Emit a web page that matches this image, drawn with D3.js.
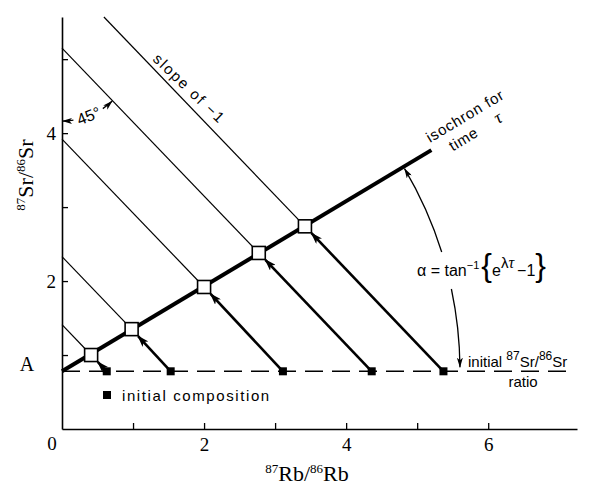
<!DOCTYPE html>
<html>
<head>
<meta charset="utf-8">
<script src="https://cdn.jsdelivr.net/npm/d3@7"></script>
<style>
  body { margin: 0; background: #fff; }
  svg { display: block; }
</style>
</head>
<body>
<div id="chart"></div>
<script>
"use strict";

// Initial compositions (on the dashed line)
var initialRb = [0.63, 1.53, 3.11, 4.36, 5.37];
var initialSr = 0.78;

// Compositions after time tau (on the isochron)
var nowRb = [0.41, 0.98, 2.0, 2.77, 3.42];
var nowSr = [1.0, 1.35, 1.92, 2.38, 2.74];

// Isochron end points
var isoRb = [0, 5.2];
var isoSr = [0.78, 3.77];

// Ticks
var xTicks = [1, 2, 3, 4, 5, 6];
var xTickLabels = ["", "2", "", "4", "", "6"];
var yTicks = [1, 2, 3, 4, 5];
var yTickLabels = ["", "2", "", "4", ""];

var width = 599, height = 487;
var serif = "'Liberation Serif', 'DejaVu Serif', serif";
var sans = "'Liberation Sans', Arial, sans-serif";

var x = d3.scaleLinear().domain([0, 7.25]).range([62, 577]);
var y = d3.scaleLinear().domain([0, 5.57]).range([429, 17]);

var svg = d3.select("#chart").append("svg")
  .attr("width", width)
  .attr("height", height);

// Arrow heads
var defs = svg.append("defs");
defs.append("marker")
  .attr("id", "bighead")
  .attr("viewBox", "0 0 12 8")
  .attr("refX", 11).attr("refY", 4)
  .attr("markerWidth", 12).attr("markerHeight", 8)
  .attr("markerUnits", "userSpaceOnUse")
  .attr("orient", "auto")
  .append("path")
  .attr("d", "M0,0 L12,4 L0,8 L3,4 Z")
  .attr("fill", "black");
defs.append("marker")
  .attr("id", "smallhead")
  .attr("viewBox", "0 0 10 6")
  .attr("refX", 9.5).attr("refY", 3)
  .attr("markerWidth", 10).attr("markerHeight", 6)
  .attr("markerUnits", "userSpaceOnUse")
  .attr("orient", "auto")
  .append("path")
  .attr("d", "M0,0 L10,3 L0,6 L2.5,3 Z")
  .attr("fill", "black");

// Axes
var xAxis = svg.append("g")
  .attr("transform", "translate(0," + y(0) + ")")
  .call(d3.axisBottom(x)
    .tickValues(xTicks)
    .tickSizeInner(-6)
    .tickSizeOuter(0)
    .tickPadding(9)
    .tickFormat(function(d, i) { return xTickLabels[i]; }));

var yAxis = svg.append("g")
  .attr("transform", "translate(" + x(0) + ",0)")
  .call(d3.axisLeft(y)
    .tickValues(yTicks)
    .tickSizeInner(-6)
    .tickSizeOuter(0)
    .tickPadding(6)
    .tickFormat(function(d, i) { return yTickLabels[i]; }));

[xAxis, yAxis].forEach(function(ax) {
  ax.select(".domain").attr("stroke-width", 1.6);
  ax.selectAll(".tick line").attr("stroke-width", 1.3);
  ax.selectAll("text")
    .attr("font-family", serif)
    .attr("font-size", 19)
    .attr("fill", "black");
});

// Origin label and "A"
svg.append("text")
  .attr("x", 52).attr("y", 450)
  .attr("text-anchor", "middle")
  .attr("font-family", serif).attr("font-size", 19)
  .text("0");

svg.append("text")
  .attr("x", 27).attr("y", y(initialSr))
  .attr("text-anchor", "middle")
  .attr("font-family", serif).attr("font-size", 20)
  .text("A");

// Axis titles
var xt = svg.append("text")
  .attr("x", 307).attr("y", 481)
  .attr("text-anchor", "middle")
  .attr("font-family", serif).attr("font-size", 22);
xt.append("tspan").attr("font-size", 13).attr("dy", -8).text("87");
xt.append("tspan").attr("dy", 8).text("Rb/");
xt.append("tspan").attr("font-size", 13).attr("dy", -8).text("86");
xt.append("tspan").attr("dy", 8).text("Rb");

var yt = svg.append("text")
  .attr("transform", "translate(33,175) rotate(-90)")
  .attr("text-anchor", "middle")
  .attr("font-family", serif).attr("font-size", 22);
yt.append("tspan").attr("font-size", 13).attr("dy", -8).text("87");
yt.append("tspan").attr("dy", 8).text("Sr/");
yt.append("tspan").attr("font-size", 13).attr("dy", -8).text("86");
yt.append("tspan").attr("dy", 8).text("Sr");

// Thin lines of slope -1 through each isochron point
var yMax = y.domain()[1];
svg.append("g").selectAll("line")
  .data(nowRb)
  .join("line")
  .attr("x1", function(d, i) {
    var c = d + nowSr[i];
    return x(c > yMax ? c - yMax : 0);
  })
  .attr("y1", function(d, i) {
    var c = d + nowSr[i];
    return y(Math.min(c, yMax));
  })
  .attr("x2", function(d) { return x(d); })
  .attr("y2", function(d, i) { return y(nowSr[i]); })
  .attr("stroke", "black")
  .attr("stroke-width", 1.2);

// Initial ratio dashed line
svg.append("line")
  .attr("x1", x(0)).attr("x2", x(7.1))
  .attr("y1", y(initialSr)).attr("y2", y(initialSr))
  .attr("stroke", "black")
  .attr("stroke-width", 1.5)
  .attr("stroke-dasharray", "18,9");

// Isochron
var line = d3.line()
  .x(function(d) { return x(d[0]); })
  .y(function(d) { return y(d[1]); });
svg.append("path")
  .datum(d3.zip(isoRb, isoSr))
  .attr("d", line)
  .attr("fill", "none")
  .attr("stroke", "black")
  .attr("stroke-width", 4);

// Thick arrows from initial to present composition
svg.append("g").selectAll("line")
  .data(initialRb)
  .join("line")
  .each(function(d, i) {
    var x1 = x(d), y1 = y(initialSr);
    var x2 = x(nowRb[i]), y2 = y(nowSr[i]);
    var len = Math.hypot(x2 - x1, y2 - y1);
    var back = 9.5;
    d3.select(this)
      .attr("x1", x1).attr("y1", y1)
      .attr("x2", x2 - (x2 - x1) / len * back)
      .attr("y2", y2 - (y2 - y1) / len * back);
  })
  .attr("stroke", "black")
  .attr("stroke-width", 2.6)
  .attr("marker-end", "url(#bighead)");

// Open squares on the isochron
var sq = 13;
svg.append("g").selectAll("rect")
  .data(nowRb)
  .join("rect")
  .attr("x", function(d) { return x(d) - sq / 2; })
  .attr("y", function(d, i) { return y(nowSr[i]) - sq / 2; })
  .attr("width", sq).attr("height", sq)
  .attr("fill", "white")
  .attr("stroke", "black")
  .attr("stroke-width", 1.6);

// Filled squares: initial compositions
var fs = 8;
svg.append("g").selectAll("rect")
  .data(initialRb)
  .join("rect")
  .attr("x", function(d) { return x(d) - fs / 2; })
  .attr("y", y(initialSr) - fs / 2)
  .attr("width", fs).attr("height", fs)
  .attr("fill", "black");

// Legend
svg.append("rect")
  .attr("x", 103).attr("y", 391)
  .attr("width", fs).attr("height", fs)
  .attr("fill", "black");
svg.append("text")
  .attr("x", 122).attr("y", 401)
  .attr("font-family", sans).attr("font-size", 15)
  .attr("letter-spacing", 1.6)
  .text("initial composition");

// "slope of -1" label
svg.append("text")
  .attr("transform", "translate(152,60) rotate(43.8)")
  .attr("font-family", sans).attr("font-size", 15)
  .attr("letter-spacing", 1.8)
  .text("slope of \u22121");

// 45 degree mark
var cx45 = x(0), cy45 = y(nowRb[3] + nowSr[3]);
var r45 = 73;
var phi = Math.atan2(y(0) - y(1), x(1) - x(0));
var deg = Math.PI / 180;
var p1 = d3.path();
p1.arc(cx45, cy45, r45, 81 * deg, 89.6 * deg, false);
svg.append("path").attr("d", p1.toString())
  .attr("fill", "none").attr("stroke", "black").attr("stroke-width", 1.3)
  .attr("marker-end", "url(#smallhead)");
var p2 = d3.path();
p2.arc(cx45, cy45, r45, 56 * deg, phi + 0.4 * deg, true);
svg.append("path").attr("d", p2.toString())
  .attr("fill", "none").attr("stroke", "black").attr("stroke-width", 1.3)
  .attr("marker-end", "url(#smallhead)");
var a45 = 68.5 * deg;
svg.append("text")
  .attr("transform", "translate(" + (cx45 + r45 * Math.cos(a45)) + "," +
        (cy45 + r45 * Math.sin(a45)) + ") rotate(-21.5)")
  .attr("text-anchor", "middle")
  .attr("dominant-baseline", "central")
  .attr("font-family", sans).attr("font-size", 16)
  .text("45\u00b0");

// Isochron label
var cx0 = x(isoRb[0]), cy0 = y(isoSr[0]);
var theta = Math.atan2(cy0 - y(isoSr[1]), x(isoRb[1]) - cx0);
var iso = svg.append("g")
  .attr("transform", "translate(430,143) rotate(" + (-theta / deg) + ")")
  .attr("font-family", sans).attr("font-size", 15)
  .attr("letter-spacing", 0.8);
iso.append("text").attr("x", 0).attr("y", 0).text("isochron for");
iso.append("text").attr("x", 15).attr("y", 19).text("time");
iso.append("text").attr("x", 68).attr("y", 19)
  .attr("font-family", serif).attr("font-style", "italic")
  .attr("font-size", 18).text("\u03c4");

// Alpha arc
var R = 398;
var aTop = Math.asin((cy0 - 252) / R);
var aBot = Math.asin((cy0 - 289) / R);
var pa = d3.path();
pa.arc(cx0, cy0, R, -aTop, -theta + 0.3 * deg, true);
svg.append("path").attr("d", pa.toString())
  .attr("fill", "none").attr("stroke", "black").attr("stroke-width", 1.3)
  .attr("marker-end", "url(#smallhead)");
var pb = d3.path();
pb.arc(cx0, cy0, R, -aBot, -0.6 * deg, false);
svg.append("path").attr("d", pb.toString())
  .attr("fill", "none").attr("stroke", "black").attr("stroke-width", 1.3)
  .attr("marker-end", "url(#smallhead)");

// Formula
var f = svg.append("text")
  .attr("x", 417).attr("y", 276)
  .attr("font-family", sans).attr("font-size", 16);
f.append("tspan").text("\u03b1 = tan");
f.append("tspan").attr("font-size", 11).attr("dy", -7).text("\u22121");
f.append("tspan").attr("font-size", 32).attr("dy", 7).attr("dx", 2).text("{");
f.append("tspan").text("e");
f.append("tspan").attr("font-size", 15).attr("dy", -8).text("\u03bb");
f.append("tspan").attr("font-size", 16).attr("font-family", serif)
  .attr("font-style", "italic").text("\u03c4");
f.append("tspan").attr("dy", 8).attr("dx", 3).text("\u22121");
f.append("tspan").attr("font-size", 32).text("}");

// Initial ratio label
var ir = svg.append("text")
  .attr("x", 468).attr("y", 367)
  .attr("font-family", sans).attr("font-size", 15);
ir.append("tspan").text("initial ");
ir.append("tspan").attr("font-size", 12).attr("dy", -7).text("87");
ir.append("tspan").attr("dy", 7).text("Sr/");
ir.append("tspan").attr("font-size", 12).attr("dy", -7).text("86");
ir.append("tspan").attr("dy", 7).text("Sr");
svg.append("text")
  .attr("x", 523).attr("y", 387)
  .attr("text-anchor", "middle")
  .attr("font-family", sans).attr("font-size", 15)
  .text("ratio");
</script>
</body>
</html>
